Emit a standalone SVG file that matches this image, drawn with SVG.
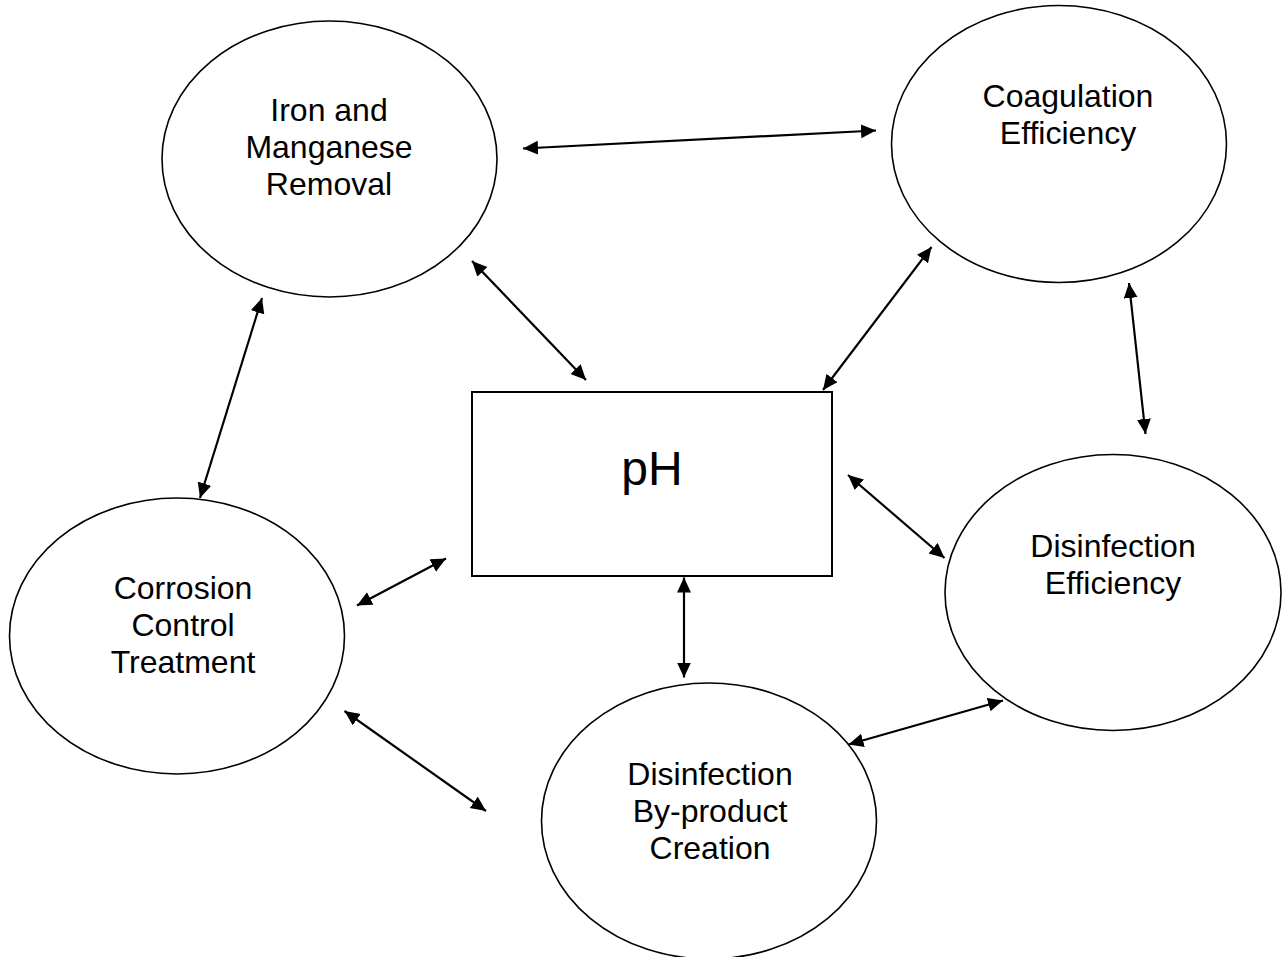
<svg xmlns="http://www.w3.org/2000/svg" width="1286" height="957" viewBox="0 0 1286 957">
<style>
.node{fill:#fff;stroke:#000;stroke-width:1.6}
.box{fill:#fff;stroke:#000;stroke-width:2}
.lbl{font-family:"Liberation Sans",Arial,sans-serif;font-size:32px;fill:#000;text-anchor:middle}
.big{font-family:"Liberation Sans",Arial,sans-serif;font-size:48px;fill:#000;text-anchor:middle}
.conn{stroke:#000;stroke-width:2.2;fill:none;marker-start:url(#ah);marker-end:url(#ah)}
</style>
<defs>
<marker id="ah" markerUnits="userSpaceOnUse" markerWidth="16" markerHeight="15" refX="15" refY="7" orient="auto-start-reverse" viewBox="0 0 16 15">
<path d="M0,0 L15,7 L0,14 z" fill="#000"/>
</marker>
</defs>
<rect width="1286" height="957" fill="#fff"/>
<g id="iron">
<ellipse class="node" cx="329.5" cy="159" rx="167.5" ry="138"/>
<text class="lbl" x="329" y="121">Iron and</text>
<text class="lbl" x="329" y="158">Manganese</text>
<text class="lbl" x="329" y="195">Removal</text>
</g>
<g id="coag">
<ellipse class="node" cx="1059" cy="144" rx="167.5" ry="138.5"/>
<text class="lbl" x="1068" y="107">Coagulation</text>
<text class="lbl" x="1068" y="144">Efficiency</text>
</g>
<g id="disinf">
<ellipse class="node" cx="1113" cy="592.5" rx="168" ry="138"/>
<text class="lbl" x="1113" y="557">Disinfection</text>
<text class="lbl" x="1113" y="594">Efficiency</text>
</g>
<g id="corrosion">
<ellipse class="node" cx="177" cy="636" rx="167.5" ry="138"/>
<text class="lbl" x="183" y="599">Corrosion</text>
<text class="lbl" x="183" y="636">Control</text>
<text class="lbl" x="183" y="673">Treatment</text>
</g>
<g id="dbp">
<ellipse class="node" cx="709" cy="821" rx="167.5" ry="138"/>
<text class="lbl" x="710" y="785">Disinfection</text>
<text class="lbl" x="710" y="822">By-product</text>
<text class="lbl" x="710" y="859">Creation</text>
</g>
<g id="ph">
<rect class="box" x="472" y="392" width="360" height="184"/>
<text class="big" x="652" y="485">pH</text>
</g>
<g id="connectors">
<line class="conn" x1="523" y1="148.5" x2="876" y2="130.5"/>
<line class="conn" x1="472" y1="261" x2="586" y2="380"/>
<line class="conn" x1="931.5" y1="247" x2="823" y2="390"/>
<line class="conn" x1="1129" y1="283" x2="1145.5" y2="434"/>
<line class="conn" x1="262" y1="298" x2="200" y2="498"/>
<line class="conn" x1="848" y1="475" x2="944.5" y2="558"/>
<line class="conn" x1="446" y1="558.5" x2="357" y2="605.5"/>
<line class="conn" x1="684" y1="577.5" x2="684" y2="677.5"/>
<line class="conn" x1="1003" y1="700.5" x2="848.5" y2="744.5"/>
<line class="conn" x1="344.5" y1="711" x2="486" y2="811"/>
</g>
</svg>
